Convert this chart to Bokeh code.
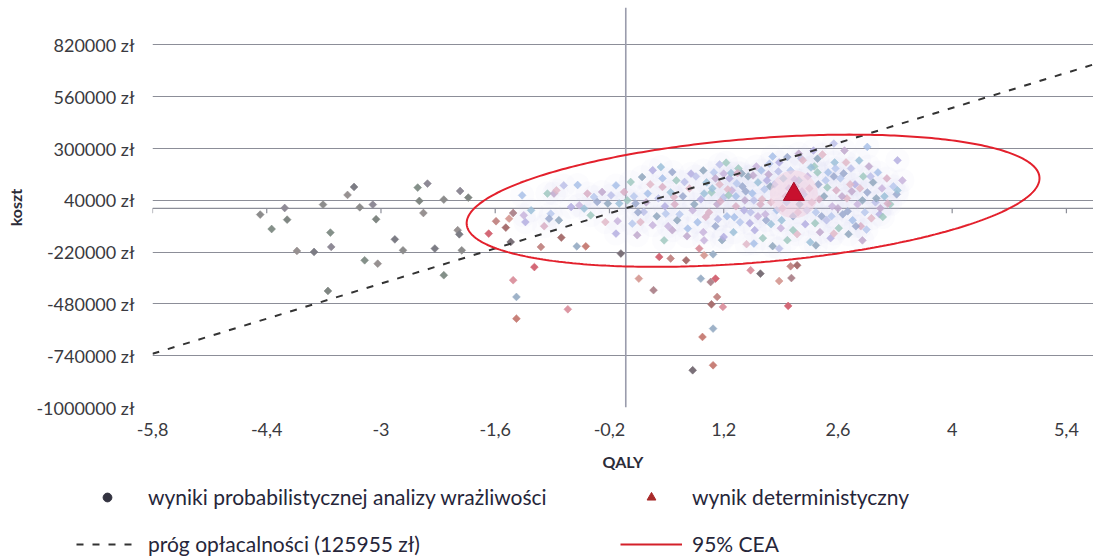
import numpy as np
from bokeh.plotting import figure
from bokeh.models import (ColumnDataSource, FixedTicker, PrintfTickFormatter,
                          CustomJSTickFormatter, Span, Legend, LegendItem, Range1d)
from bokeh.embed import file_html
from bokeh.resources import INLINE

# ---- axes ----
x_ticks = [-5.8, -4.4, -3.0, -1.6, -0.2, 1.2, 2.6, 4.0, 5.4]
y_ticks = [-1000000, -740000, -480000, -220000, 40000, 300000, 560000, 820000]

# ---- cost-effectiveness threshold (zł per QALY) ----
wtp = 125955

# ---- deterministic result ----
det_qaly = [2.06]
det_cost = [70000]

# ---- 95% confidence ellipse of the PSA cloud ----
cea_qaly_center = 1.56
cea_cost_center = 38000
cea_qaly_half = 3.51
cea_cost_half = 312000
cea_cost_per_qaly = 32200

# ---- PSA results: far left of the cloud ----
psa_left_qaly = [
    -4.48, -4.34, -4.18, -4.15, -4.03, -3.82, -3.71, -3.62, -3.61, -3.65,
    -3.41, -3.33, -3.26, -3.20, -3.10, -3.06, -3.04, -2.83, -2.73, -2.55,
    -2.43, -2.53, -2.48, -2.34, -2.23, -2.23, -2.03, -1.93, -2.06, -2.04,
    -2.01,
]
psa_left_cost = [
    -31600, -104000, 1500, -57000, -214000, -219000, 18500, -122000, -194000, -415000,
    67000, 107000, 5000, -261000, 18500, -55000, -278000, -156000, -211000, 104000,
    124000, 37000, -23600, -202000, 43700, -336000, 86800, 53700, -110000, -130500,
    -211000,
]

# ---- PSA results: low-cost tail below the cloud ----
psa_low_qaly = [
    -1.68, -1.59, -1.47, -1.38, -1.34, -1.34, -1.41, -1.43, -1.38,
    -1.12, -1.04, -0.79, -0.71, -0.60, -0.49, -0.06, 0.16, 0.34, 0.41,
    0.55, 0.74, 0.90, 0.92, 0.94, 0.82, 0.96, 1.04, 1.10, 1.12,
    1.05, 1.19, 1.07, 1.07, 1.65, 1.88, 2.03, 1.99, 2.02, 2.10,
    1.53, 1.07,
]
psa_low_cost = [
    -127000, -65000, -97000, -361000, -445000, -554000, -169000, -52000, -23600,
    -295000, -194000, -147000, -507000, -191000, -191000, -227000, -353000, -411000, -244000,
    -252000, -261000, -202000, -353000, -646000, -813000, -236000, -370000, -353000, -445000,
    -482000, -495000, -604000, -788000, -328000, -365000, -350000, -490000, -291000, -286000,
    -311000, -231000,
]

# ---- PSA results: dense core of the cloud ----
psa_core_qaly = [
    -1.27, -1.23, -1.25, -1.16, -1.00, -0.96, -0.92, -0.94, -0.88, -0.85,
    -0.82, -0.76, -0.59, -0.67, -0.57, -0.51, -0.47, -0.43, -0.39, -0.35,
    -0.29, -0.25, -0.22, -0.18, -0.12, -0.12, -0.10, -0.08, -0.02, 0.06,
    0.08, 0.12, 0.14, 0.18, 0.20, 0.22, 0.27, 0.33, 0.33, 0.43,
    0.45, 0.47, 0.49, 0.57, 0.57, 0.59, 0.63, 0.72, 0.76, 0.80,
    0.82, 0.96, 0.98,
    0.02, 0.10, 0.15, 0.25, 0.30, 0.38, 0.40, 0.45, 0.48, 0.52,
    0.55, 0.60, 0.62, 0.66, 0.70, 0.75, 0.78, 0.84, 0.86, 0.88,
    0.92, 0.95, 0.99,
    1.02, 1.05, 1.08, 1.10, 1.12, 1.15, 1.18, 1.20, 1.24, 1.27,
    1.30, 1.32, 1.35, 1.38, 1.40, 1.43, 1.46, 1.48, 1.50, 1.53,
    1.55, 1.58, 1.60, 1.62, 1.65, 1.68, 1.70, 1.72, 1.75, 1.78,
    1.80, 1.82, 1.85, 1.88, 1.90, 1.93, 1.96, 1.98,
    2.02, 2.05, 2.08, 2.10, 2.13, 2.15, 2.18, 2.20, 2.23, 2.26,
    2.28, 2.31, 2.33, 2.36, 2.38, 2.41, 2.43, 2.46, 2.48, 2.51,
    2.53, 2.56, 2.58, 2.61, 2.63, 2.66, 2.68, 2.71, 2.73, 2.76,
    2.78,
    2.81, 2.84, 2.86, 2.88, 2.91, 2.93, 2.96, 2.98, 3.01, 3.03,
    3.06, 3.09, 3.11, 3.14, 3.17, 3.20, 3.24, 3.28, 3.32,
    1.10, 1.25, 1.42, 1.57, 1.66, 1.73, 2.00, 2.12, 2.25, 2.35,
    2.45, 2.55, 2.65, 2.75, 2.90, 3.00, 1.35, 1.45, 1.62, 1.78,
    1.92, 2.05, 2.22, 2.40, 2.60, 2.70, 0.95, 1.15, 1.80, 2.30,
    1.20, 1.29, 1.37, 1.23, 1.76, 1.98, 2.12, 2.17, 2.35, 2.55,
    2.96, 3.33, 3.39, 3.33, 3.21, 3.15, 2.95, 2.82, 2.90, 2.55,
    2.33, 1.88, 1.57, 1.20, 0.96,
    1.06, 1.16, 1.26, 1.36, 1.47, 1.56, 1.67, 1.77, 1.87, 1.97,
    2.07, 2.16, 2.27, 2.37, 2.47, 2.57, 2.67, 2.77, 2.87, 3.07,
    1.13, 1.33, 1.52, 1.71, 1.91, 2.11, 2.32, 2.52, 2.72, 3.12,
]
psa_core_cost = [
    65000, -69000, -35000, -10000, -90000, 74000, -27000, -52000, 74000, 90000,
    -60000, 115000, 117000, 6500, 15000, -1500, 74000, -35000, 57000, 32000,
    82000, -69000, 24000, 65000, 115000, -127000, -64000, 24000, 82000, 132000,
    -77000, 24000, -135000, -69000, 157000, -18500, 74000, 191000, -85000, 207000,
    107000, -161000, -27000, 182000, -110000, 57000, -60000, 132000, -102000, 174000,
    -10000, 74000, -43600,
    40000, 60000, -20000, 30000, 120000, -40000, 50000, 150000, 10000, -90000,
    80000, 20000, 140000, -30000, 60000, -140000, 100000, 20000, 160000, -70000,
    45000, -120000, 130000,
    -20000, 80000, 180000, -90000, 20000, 120000, -160000, 55000, -40000, 150000,
    90000, -120000, 10000, 200000, -70000, 110000, 40000, -180000, 160000, -20000,
    75000, -110000, 210000, 130000, 20000, -150000, 95000, -60000, 170000, 30000,
    -190000, 120000, -10000, 230000, -100000, 150000, 60000, -160000,
    190000, -40000, 110000, -130000, 20000, 250000, 70000, -80000, 160000, -170000,
    30000, 210000, -20000, 120000, -120000, 270000, 60000, -60000, 180000, -150000,
    10000, 230000, 90000, -100000, 150000, -30000, 290000, 50000, -130000, 200000,
    -60000,
    120000, 20000, 240000, -90000, 160000, -20000, 80000, 210000, -50000, 130000,
    30000, 180000, -30000, 100000, 60000, 150000, 20000, 110000, 70000,
    150000, 95000, 175000, 40000, 190000, 140000, 100000, 140000, 100000, 180000,
    140000, 160000, 60000, 120000, 40000, 160000, 60000, -10000, -40000, -80000,
    0, -110000, -10000, -40000, 0, 230000, 190000, 220000, 260000, 290000,
    174000, 177000, 177000, 229000, 224000, 257000, 274000, 241000, 249000, 325000,
    308000, 241000, 140000, 90000, 24000, -43600, -107000, -90000, -161000, -127000,
    -186000, -202000, -177000, -144000, -161000,
    100000, 35000, 65000, 125000, 85000, 165000, 45000, 110000, 185000, 30000,
    145000, 85000, 205000, 45000, 105000, 200000, 175000, 85000, 100000, 50000,
    -55000, -45000, -75000, -30000, -60000, -20000, -75000, -40000, -15000, 0,
]

FONT = "Lato"
TEXT = "#3a3a40"
GRID = "#8c8e98"

left_palette = ["#8c8c8c", "#849089", "#8e8a96", "#7f8682", "#979191", "#7c7c84"]
low_palette = ["#d46876", "#c48a88", "#a87070", "#dc96a2", "#9eb2c8", "#c88078",
               "#7a7078", "#d8a09a", "#b08890"]
core_palette = ["#a8c0e8", "#b4aee0", "#c8b4dc", "#9cc0d8", "#d8aec4", "#a0c8c0",
                "#b8c8ec", "#9aa8cc", "#c0a8cc", "#e0b8c8", "#8fa6bc", "#bcc0e8"]


def cycle(palette, n):
    return [palette[i % len(palette)] for i in range(n)]


left_src = ColumnDataSource(dict(x=psa_left_qaly, y=psa_left_cost,
                                 c=cycle(left_palette, len(psa_left_qaly))))
low_src = ColumnDataSource(dict(x=psa_low_qaly, y=psa_low_cost,
                                c=cycle(low_palette, len(psa_low_qaly))))
core_src = ColumnDataSource(dict(x=psa_core_qaly, y=psa_core_cost,
                                 c=cycle(core_palette, len(psa_core_qaly))))

x_lo, x_hi = -5.8, 5.732
y_lo, y_hi = -1000000, 1008000
frame_h = 400

p = figure(width=1093, height=476, output_backend="svg", toolbar_location=None,
           x_range=Range1d(x_lo, x_hi), y_range=Range1d(y_lo, y_hi),
           min_border_left=152, min_border_right=0, min_border_top=7,
           min_border_bottom=69)
p.outline_line_color = None
p.background_fill_color = "white"
p.border_fill_color = "white"

# axes: labels only, the zero lines carry the axis strokes
p.xaxis.ticker = FixedTicker(ticks=x_ticks)
p.xaxis.formatter = CustomJSTickFormatter(
    code="const v = Math.round(tick * 10) / 10; return v.toString().replace('.', ',');")
p.yaxis.ticker = FixedTicker(ticks=y_ticks)
p.yaxis.formatter = PrintfTickFormatter(format="%d zł")
for ax in (p.xaxis[0], p.yaxis[0]):
    ax.axis_line_color = None
    ax.major_tick_line_color = None
    ax.minor_tick_line_color = None
    ax.major_tick_out = 0
    ax.major_tick_in = 0
    ax.major_label_text_font = FONT
    ax.major_label_text_font_size = "18px"
    ax.major_label_text_color = TEXT
    ax.axis_label_text_font = FONT
    ax.axis_label_text_font_size = "16px"
    ax.axis_label_text_font_style = "bold"
    ax.axis_label_text_color = "#2c2c38"
p.xaxis.major_label_standoff = 15
p.yaxis.major_label_standoff = 18
p.xaxis.axis_label = "QALY"
p.xaxis.axis_label_standoff = 13
p.yaxis.axis_label = "koszt"
p.yaxis.axis_label_standoff = 8

p.xgrid.grid_line_color = None
p.ygrid.ticker = FixedTicker(ticks=y_ticks)
p.ygrid.grid_line_color = GRID
p.ygrid.grid_line_width = 1

# zero lines
v0 = Span(location=0, dimension="height", line_color="#9a9cac", line_width=1.6, level="underlay")
h0 = Span(location=0, dimension="width", line_color=GRID, line_width=1.2, level="underlay")
p.add_layout(v0)
p.add_layout(h0)
# outward tick marks on the zero cost line
tick_len = 5 * (y_hi - y_lo) / frame_h
p.segment(x0=x_ticks, y0=[0] * len(x_ticks), x1=x_ticks, y1=[-tick_len] * len(x_ticks),
          line_color=GRID, line_width=1.2)

# soft glow under the PSA cloud
p.scatter("x", "y", source=core_src, marker="circle", size=24,
          fill_color="#c6c4ec", fill_alpha=0.06, line_color=None)
p.scatter("x", "y", source=left_src, marker="square", angle=np.pi / 4, size=5.5,
          fill_color="c", line_color="c", line_width=0.6)
p.scatter("x", "y", source=low_src, marker="square", angle=np.pi / 4, size=5.5,
          fill_color="c", line_color="c", line_width=0.6)
p.scatter("x", "y", source=core_src, marker="square", angle=np.pi / 4, size=5.5,
          fill_color="c", fill_alpha=0.85, line_color="c", line_alpha=0.85, line_width=0.6)

# threshold line
thr_x = np.array([x_lo, x_hi])
p.line(thr_x, wtp * thr_x, line_color="#333333", line_width=2, line_dash="7 9")

# 95% ellipse
t = np.linspace(0, 2 * np.pi, 400)
ex = cea_qaly_center + cea_qaly_half * np.cos(t)
ey = cea_cost_center + cea_cost_per_qaly * (ex - cea_qaly_center) + cea_cost_half * np.sin(t)
p.line(ex, ey, line_color="#e3202c", line_width=2)

# deterministic point with glow
p.scatter(det_qaly, det_cost, marker="circle", size=48, fill_color="#f2d4e2",
          fill_alpha=0.6, line_color=None)
p.scatter(det_qaly, det_cost, marker="triangle", size=21, fill_color="#c8102e",
          line_color="#a00c24", line_width=1)

# ---- legend strip (separate canvas so its frame spans the full width) ----
lg = figure(width=1093, height=80, output_backend="svg", toolbar_location=None,
            x_range=Range1d(0, 1), y_range=Range1d(0, 1),
            min_border=0, min_border_left=0, min_border_right=0,
            min_border_top=0, min_border_bottom=0)
lg.axis.visible = False
lg.grid.visible = False
lg.outline_line_color = None
lg.background_fill_color = "white"
lg.border_fill_color = "white"

# legend swatches: one undrawn (NaN) sample each, so only the key shows them
nan_pt = dict(x=[np.nan], y=[np.nan])
dot_leg = lg.scatter("x", "y", source=ColumnDataSource(nan_pt), marker="circle", size=5,
                     fill_color="#333340", line_color="#333340")
tri_leg = lg.scatter("x", "y", source=ColumnDataSource(nan_pt), marker="triangle", size=14,
                     fill_color="#a82a2a", line_color="#a82a2a")
thr_leg = lg.line("x", "y", source=ColumnDataSource(nan_pt), line_color="#333333",
                  line_width=2, line_dash="7 9")
cea_leg = lg.line("x", "y", source=ColumnDataSource(nan_pt), line_color="#d4202a", line_width=2)

leg_style = dict(orientation="horizontal", padding=0, margin=0, spacing=2,
                 glyph_width=62, glyph_height=22, label_height=22, label_width=470,
                 label_standoff=10, border_line_color=None, background_fill_alpha=0,
                 label_text_font=FONT, label_text_font_size="21px",
                 label_text_color="#26263a")
leg1 = Legend(items=[LegendItem(label="wyniki probabilistycznej analizy wrażliwości", renderers=[dot_leg]),
                     LegendItem(label="wynik deterministyczny", renderers=[tri_leg])],
              location=(76, 47), **leg_style)
leg2 = Legend(items=[LegendItem(label="próg opłacalności (125955 zł)", renderers=[thr_leg]),
                     LegendItem(label="95% CEA", renderers=[cea_leg])],
              location=(76, 0), **leg_style)
lg.add_layout(leg1)
lg.add_layout(leg2)

open("out.html", "w").write(file_html([p, lg], INLINE))
